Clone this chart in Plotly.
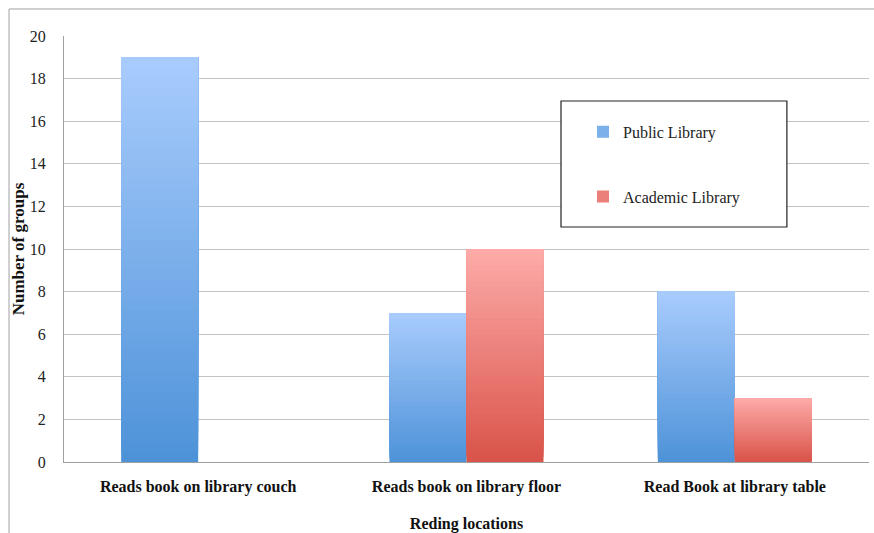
import plotly.graph_objects as go

categories = ["Reads book on library couch", "Reads book on library floor", "Read Book at library table"]
public_library = [19, 7, 8]
academic_library = [0, 10, 3]
series_names = ["Public Library", "Academic Library"]
y_ticks = [0, 2, 4, 6, 8, 10, 12, 14, 16, 18, 20]

# gradient end colours (bottom, top)
gradients = {
    "Public Library": ((0x4d, 0x92, 0xd8), (0xa9, 0xcc, 0xfd)),
    "Academic Library": ((0xd9, 0x53, 0x49), (0xfd, 0xab, 0xa9)),
}

N = 40
fig = go.Figure()
for name, vals in zip(series_names, [public_library, academic_library]):
    bot, top = gradients[name]
    for k in range(N):
        t = (k + 0.5) / N
        c = tuple(round(bot[i] + (top[i] - bot[i]) * t) for i in range(3))
        # each band runs from its own base up to the bar top; later bands overlay earlier ones
        fig.add_trace(go.Bar(
            x=categories,
            y=[v * (N - k) / N for v in vals],
            base=[v * k / N for v in vals],
            offsetgroup=name,
            legendgroup=name,
            name=name,
            showlegend=(k == N // 2),
            marker=dict(color="rgb(%d,%d,%d)" % c, line=dict(width=0)),
            hoverinfo="skip",
        ))

fig.update_layout(
    width=874, height=533,
    margin=dict(l=64, r=5, t=36, b=71, autoexpand=False),
    paper_bgcolor="white", plot_bgcolor="white",
    barmode="group", bargap=0.426, bargroupgap=0,
    font=dict(family="Liberation Serif", size=16, color="#222222"),
    showlegend=True,
    legend=dict(
        x=0.6447, y=0.815, xanchor="left", yanchor="top",
        bgcolor="rgba(0,0,0,0)", borderwidth=0,
        traceorder="grouped", tracegroupgap=41,
        font=dict(family="Liberation Serif", size=16, color="#222222"),
    ),
    shapes=[
        dict(type="rect", xref="paper", yref="paper",
             x0=-0.0683, x1=1.2, y0=-0.3, y1=1.0634,
             line=dict(color="#a0a0a0", width=1), fillcolor="rgba(0,0,0,0)", layer="below"),
        dict(type="rect", xref="paper", yref="paper",
             x0=0.6174, x1=0.898, y0=0.5516, y1=0.8474,
             line=dict(color="#222222", width=1.2), fillcolor="white", layer="above"),
    ],
)
fig.update_xaxes(
    automargin=False,
    showgrid=False, showline=True, linecolor="#a0a0a0", linewidth=1,
    ticks="", ticklabelstandoff=10,
    tickfont=dict(family="Liberation Serif", size=16, color="#111111", weight="bold"),
    title=dict(text="<b>Reding locations</b>", font=dict(family="Liberation Serif", size=16, color="#111111"), standoff=24),
)
fig.update_yaxes(
    automargin=False,
    range=[0, 20], tickvals=y_ticks, showgrid=True, gridcolor="#c4c4c4", gridwidth=1,
    showline=True, linecolor="#a0a0a0", linewidth=1, zeroline=False,
    ticks="", ticklabelstandoff=14,
    tickfont=dict(family="Liberation Serif", size=16, color="#222222"),
    title=dict(text="<b>Number of groups</b>", font=dict(family="Liberation Serif", size=17, color="#111111"), standoff=0),
)
fig.write_html("out.html")
